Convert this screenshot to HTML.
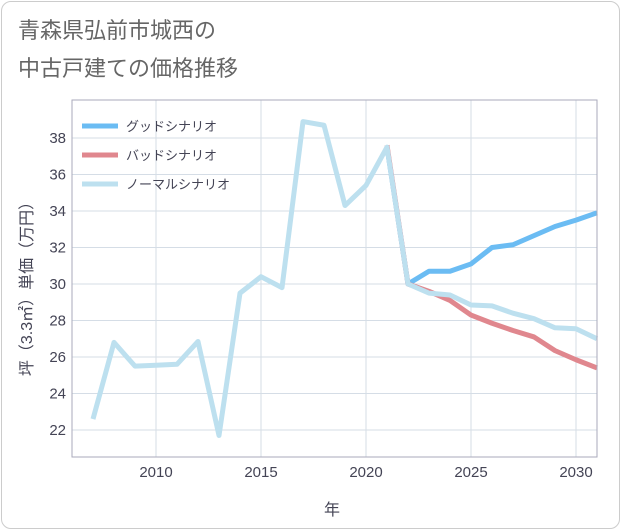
<!DOCTYPE html>
<html><head><meta charset="utf-8"><style>
body{margin:0;background:#fff;font-family:"Liberation Sans","Noto Sans CJK JP",sans-serif;}
#card{position:absolute;left:1px;top:1px;width:617px;height:526px;border:1px solid #ccc;border-radius:10px;background:#fff;}
</style></head><body>
<div id="card"></div>
<svg id="chart" width="621" height="530" style="position:absolute;left:0;top:0">
<text x="18" y="38" font-size="22" fill="#666">青森県弘前市城西の</text>
<text x="18" y="76" font-size="22" fill="#666">中古戸建ての価格推移</text>
<g id="grid"></g><g id="series"></g><g id="axes"></g>
<text x="332" y="515" font-size="16" fill="#445" text-anchor="middle">年</text>
<text transform="translate(32,285) rotate(-90)" font-size="16" fill="#445" text-anchor="middle">坪（3.3㎡）単価（万円）</text>
<g id="legend"></g>
</svg>
<script>
const years=[2007,2008,2009,2010,2011,2012,2013,2014,2015,2016,2017,2018,2019,2020,2021,2022,2023,2024,2025,2026,2027,2028,2029,2030,2031];
const normalVals=[22.6,26.8,25.5,25.55,25.6,26.85,21.7,29.5,30.4,29.8,38.9,38.7,34.3,35.4,37.5,30.0,29.5,29.4,28.85,28.8,28.4,28.1,27.6,27.55,27.0];
const fcYears=[2021,2022,2023,2024,2025,2026,2027,2028,2029,2030,2031];
const goodVals=[37.5,30.0,30.7,30.7,31.1,32.0,32.15,32.65,33.15,33.5,33.9];
const badVals=[37.6,30.0,29.6,29.1,28.3,27.85,27.45,27.1,26.35,25.85,25.4];
const xTicks=[2010,2015,2020,2025,2030];
const yTicks=[22,24,26,28,30,32,34,36,38];
const L=72,R=597,T=100,B=457;
const x=v=>93+(v-2007)*21;
const y=v=>138+(38-v)*18.25;
const NS="http://www.w3.org/2000/svg";
function mk(tag,attrs,parent){const e=document.createElementNS(NS,tag);for(const k in attrs)e.setAttribute(k,attrs[k]);document.getElementById(parent).appendChild(e);return e;}
const bg=mk('rect',{x:L,y:T,width:R-L,height:B-T,fill:'#fff',stroke:'none'},'grid');


xTicks.forEach(t=>{const l=mk('line',{x1:x(t),x2:x(t),y1:T,y2:B,stroke:'#d5dde6'},'grid');


const tx=mk('text',{x:x(t),y:B+20,'font-size':15,fill:'#445','text-anchor':'middle'},'axes');tx.textContent=t;

});
yTicks.forEach(t=>{const l=mk('line',{x1:L,x2:R,y1:y(t),y2:y(t),stroke:'#d5dde6'},'grid');


const tx=mk('text',{x:L-6,y:y(t)+5,'font-size':15,fill:'#445','text-anchor':'end'},'axes');tx.textContent=t;

});
const fr=mk('rect',{x:L,y:T,width:R-L,height:B-T,fill:'none',stroke:'#aab'},'axes');


function line(xs,vs,color,name){const p=mk('polyline',{points:xs.map((v,i)=>x(v)+','+y(vs[i])).join(' '),fill:'none',stroke:color,'stroke-width':5,'stroke-linejoin':'round'},'series');

}
line(fcYears,goodVals,'#6bbcf3','good-scenario-line');
line(fcYears,badVals,'#e0878e','bad-scenario-line');
line(years,normalVals,'#bde0ef','normal-scenario-line');
const leg=[['グッドシナリオ','#6bbcf3'],['バッドシナリオ','#e0878e'],['ノーマルシナリオ','#bde0ef']];
leg.forEach((d,i)=>{const yy=126+i*29;
const l=mk('line',{x1:82,x2:118,y1:yy,y2:yy,stroke:d[1],'stroke-width':5},'legend');


const t=mk('text',{x:126,y:yy+5,'font-size':13,fill:'#445'},'legend');t.textContent=d[0];

});
</script>
</body></html>
